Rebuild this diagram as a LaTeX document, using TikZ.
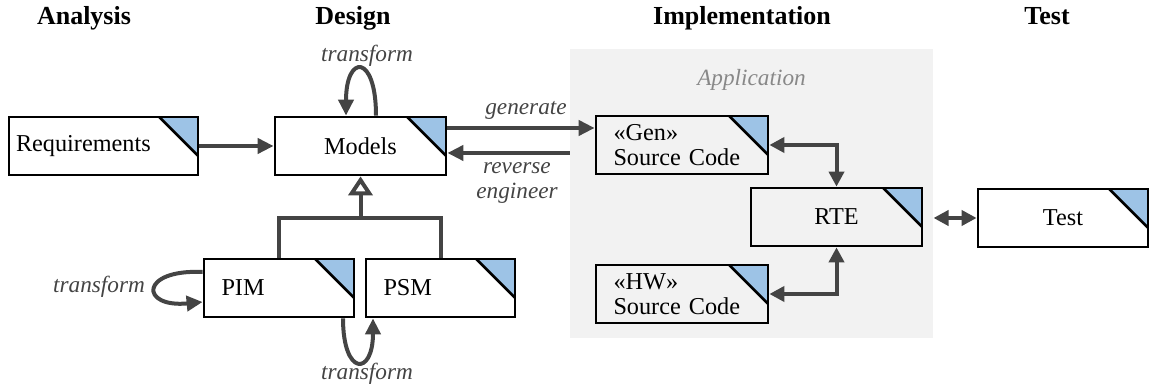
\documentclass[tikz,border=0pt]{standalone}
\usepackage{fontspec}
\setmainfont{Liberation Serif}
\usetikzlibrary{arrows.meta,calc}
\definecolor{cornerblue}{RGB}{157,195,230}
\definecolor{conngray}{RGB}{68,68,68}
\definecolor{appgray}{RGB}{242,242,242}
\definecolor{appfont}{RGB}{136,136,136}
\tikzset{
  artefact/.style={draw=black, line width=1.1pt, minimum height=23.2pt, inner sep=0pt,
    font=\fontsize{9.7}{9.8}\selectfont,
    path picture={
      \fill[cornerblue] (path picture bounding box.north east) -- ++(-15.5pt,0pt) -- ++(15.5pt,-15.5pt) -- cycle;
      \draw[line width=1.1pt] ($(path picture bounding box.north east)+(-15.5pt,0pt)$) -- ++(15.5pt,-15.5pt);}},
  boxl/.style={artefact, align=left, inner xsep=7pt, text width=#1},
  boxc/.style={artefact, minimum width=#1},
  head/.style={font=\fontsize{10.4}{12}\selectfont\bfseries, anchor=base},
  lbl/.style={font=\fontsize{9.3}{10}\selectfont\itshape, text=conngray},
  appbox/.style={fill=appgray, minimum width=145.2pt, minimum height=115.6pt, inner sep=0pt},
  conn/.style={draw=conngray, line width=1.6pt},
  arr/.style={conn, -{Triangle[length=6.4pt,width=6pt]}},
  darr/.style={conn, {Triangle[length=6pt,width=6pt]}-{Triangle[length=6pt,width=6pt]}},
  inh/.style={conn, -{Triangle[open,length=7.6pt,width=9.6pt]}}
}
\begin{document}
\begin{tikzpicture}[x=0.4pt,y=-0.4pt]
\useasboundingbox (0,0) rectangle (1150,390);
% application area
\node[appbox] (app) at (751.5,193.5) {};
\node[font=\fontsize{9.3}{10}\selectfont\itshape, text=appfont, anchor=base] (applbl) at (751.5,86) {Application};

% phases
\node[head] (hana) at (84,24.5) {Analysis};
\node[head] (hdes) at (353,24.5) {Design};
\node[head] (himp) at (742,24.5) {Implementation};
\node[head] (htest) at (1047,24.5) {Test};

% artefacts
\node[boxl=70pt, inner xsep=2.8pt] (req) at (103.5,146) {Requirements};
\node[boxc=68.4pt] (models) at (360.5,146) {Models};
\node[boxl=54.8pt] (gen) at (682,145) {«Gen»\\Source Code};
\node[boxc=68.4pt] (rte) at (836.5,217) {RTE};
\node[boxl=54.8pt] (hw) at (682,294) {«HW»\\Source Code};
\node[boxc=68pt] (test) at (1063,218) {Test};
\node[boxl=46pt] (pim) at (279,288) {PIM};
\node[boxl=45.6pt] (psm) at (440.5,288) {PSM};

% connectors
\draw[arr] (req) -- (models);
\draw[arr] (models.east |- 0,128) -- (gen.west |- 0,128);
\node[lbl, anchor=base] (lgen) at (526,115) {generate};
\draw[arr] (app.west |- 0,153) -- (models.east |- 0,153);
\node[lbl, align=center] (lrev) at (517,183) {reverse\\engineer};
\draw[darr] (gen.east) -| (rte.north);
\draw[darr] (hw.east) -| (rte.south);
\draw[darr] (app.east |- test.west) -- (test.west);

\coordinate (fork) at (models.south |- 0,218);
\draw[conn] (pim.north) |- (fork) -| (psm.north);
\draw[inh] (fork) -- (models.south);

% transform loops
\draw[arr] ($(models.north)+(15.5,0)$) .. controls +(0,-62) and +(0,-62) .. ($(models.north)+(-14.5,0)$);
\node[lbl, anchor=base] (ltop) at (367,62) {transform};
\draw[arr] ($(pim.west)+(0,-16)$) .. controls +(-63,-3) and +(-63,6) .. ($(pim.west)+(0,14)$);
\node[lbl, anchor=base] (lleft) at (99,293) {transform};
\draw[arr] ($(pim.south)+(64,0)$) .. controls +(0,58) and +(0,58) .. ($(psm.south)+(-67.5,0)$);
\node[lbl, anchor=base] (lbot) at (367,380) {transform};
\end{tikzpicture}
\end{document}
